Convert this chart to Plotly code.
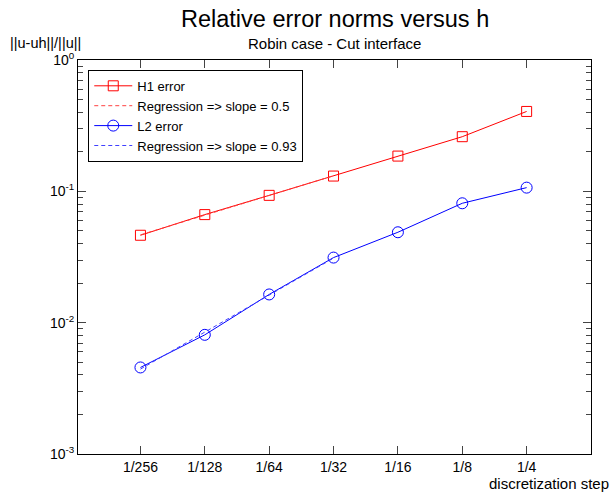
import math
import plotly.graph_objects as go

h_labels = ["1/256", "1/128", "1/64", "1/32", "1/16", "1/8", "1/4"]
h_values = [1/256, 1/128, 1/64, 1/32, 1/16, 1/8, 1/4]
h1_error = [0.0463, 0.0665, 0.0932, 0.1307, 0.1855, 0.2606, 0.4058]
l2_error = [0.00456, 0.00808, 0.0164, 0.0313, 0.0488, 0.0811, 0.1067]
reg_h = [1/256, 1/32]
h1_reg = [0.0466, 0.1314]
l2_reg = [0.00443, 0.0310]

y_tickvals = [1e-3, 1e-2, 1e-1, 1]
y_ticktext = ["10<sup>-3</sup>", "10<sup>-2</sup>", "10<sup>-1</sup>", "10<sup>0</sup>"]
y_minor = [m * 10**e for e in (-3, -2, -1) for m in range(2, 10)]

FONT = "Liberation Sans, Arial, sans-serif"

fig = go.Figure()
fig.add_trace(go.Scatter(x=h_values, y=h1_error, mode="lines+markers", name="H1 error",
                         line=dict(color="#ff0000", width=1),
                         marker=dict(symbol="square-open", size=10, color="#ff0000", line=dict(width=1))))
fig.add_trace(go.Scatter(x=reg_h, y=h1_reg, mode="lines", name="Regression => slope = 0.5",
                         line=dict(color="#ff4040", width=1, dash="4px,3px")))
fig.add_trace(go.Scatter(x=h_values, y=l2_error, mode="lines+markers", name="L2 error",
                         line=dict(color="#0000ff", width=1),
                         marker=dict(symbol="circle-open", size=11, color="#0000ff", line=dict(width=1))))
fig.add_trace(go.Scatter(x=reg_h, y=l2_reg, mode="lines", name="Regression => slope = 0.93",
                         line=dict(color="#4040ff", width=1, dash="4px,3px")))

fig.update_layout(
    width=612, height=493,
    margin=dict(l=78, r=21, t=60, b=39),
    paper_bgcolor="white", plot_bgcolor="white",
    font=dict(family=FONT, size=14, color="black"),
    showlegend=True,
    legend=dict(x=0.02, y=0.975, xanchor="left", yanchor="top",
                bordercolor="black", borderwidth=1, bgcolor="white",
                font=dict(size=13), tracegroupgap=0, itemwidth=38),
    xaxis=dict(type="log", range=[math.log10(2**-8.97), math.log10(2**-1)],
               tickvals=h_values, ticktext=h_labels, ticks="inside", ticklen=8,
               showline=True, linecolor="black", linewidth=1, mirror="allticks",
               showgrid=False, zeroline=False, tickfont=dict(size=14)),
    yaxis=dict(type="log", range=[-3, 0],
               tickvals=y_tickvals, ticktext=y_ticktext, ticks="inside", ticklen=8,
               showline=True, linecolor="black", linewidth=1, mirror="allticks",
               showgrid=False, zeroline=False, tickfont=dict(size=14),
               minor=dict(tickvals=y_minor, ticks="inside", ticklen=5, showgrid=False)),
    annotations=[
        dict(text="Relative error norms versus h", xref="paper", yref="paper",
             x=0.5, y=1.105, xanchor="center", yanchor="middle", showarrow=False,
             font=dict(size=23.5)),
        dict(text="Robin case - Cut interface", xref="paper", yref="paper",
             x=0.5, y=1.042, xanchor="center", yanchor="middle", showarrow=False,
             font=dict(size=15)),
        dict(text="||u-uh||/||u||", xref="paper", yref="paper",
             x=-0.1365, y=1.044, xanchor="left", yanchor="middle", showarrow=False,
             font=dict(size=14.5)),
        dict(text="discretization step", xref="paper", yref="paper",
             x=0.797, y=-0.074, xanchor="left", yanchor="middle", showarrow=False,
             font=dict(size=15)),
    ],
)
fig.write_html("out.html", config={"displayModeBar": False})

with open("out.html", "r", encoding="utf-8") as f:
    html = f.read()
html = html.replace("<head>", "<head><style>html,body{margin:0;padding:0;overflow:hidden;}</style>", 1)
with open("out.html", "w", encoding="utf-8") as f:
    f.write(html)
